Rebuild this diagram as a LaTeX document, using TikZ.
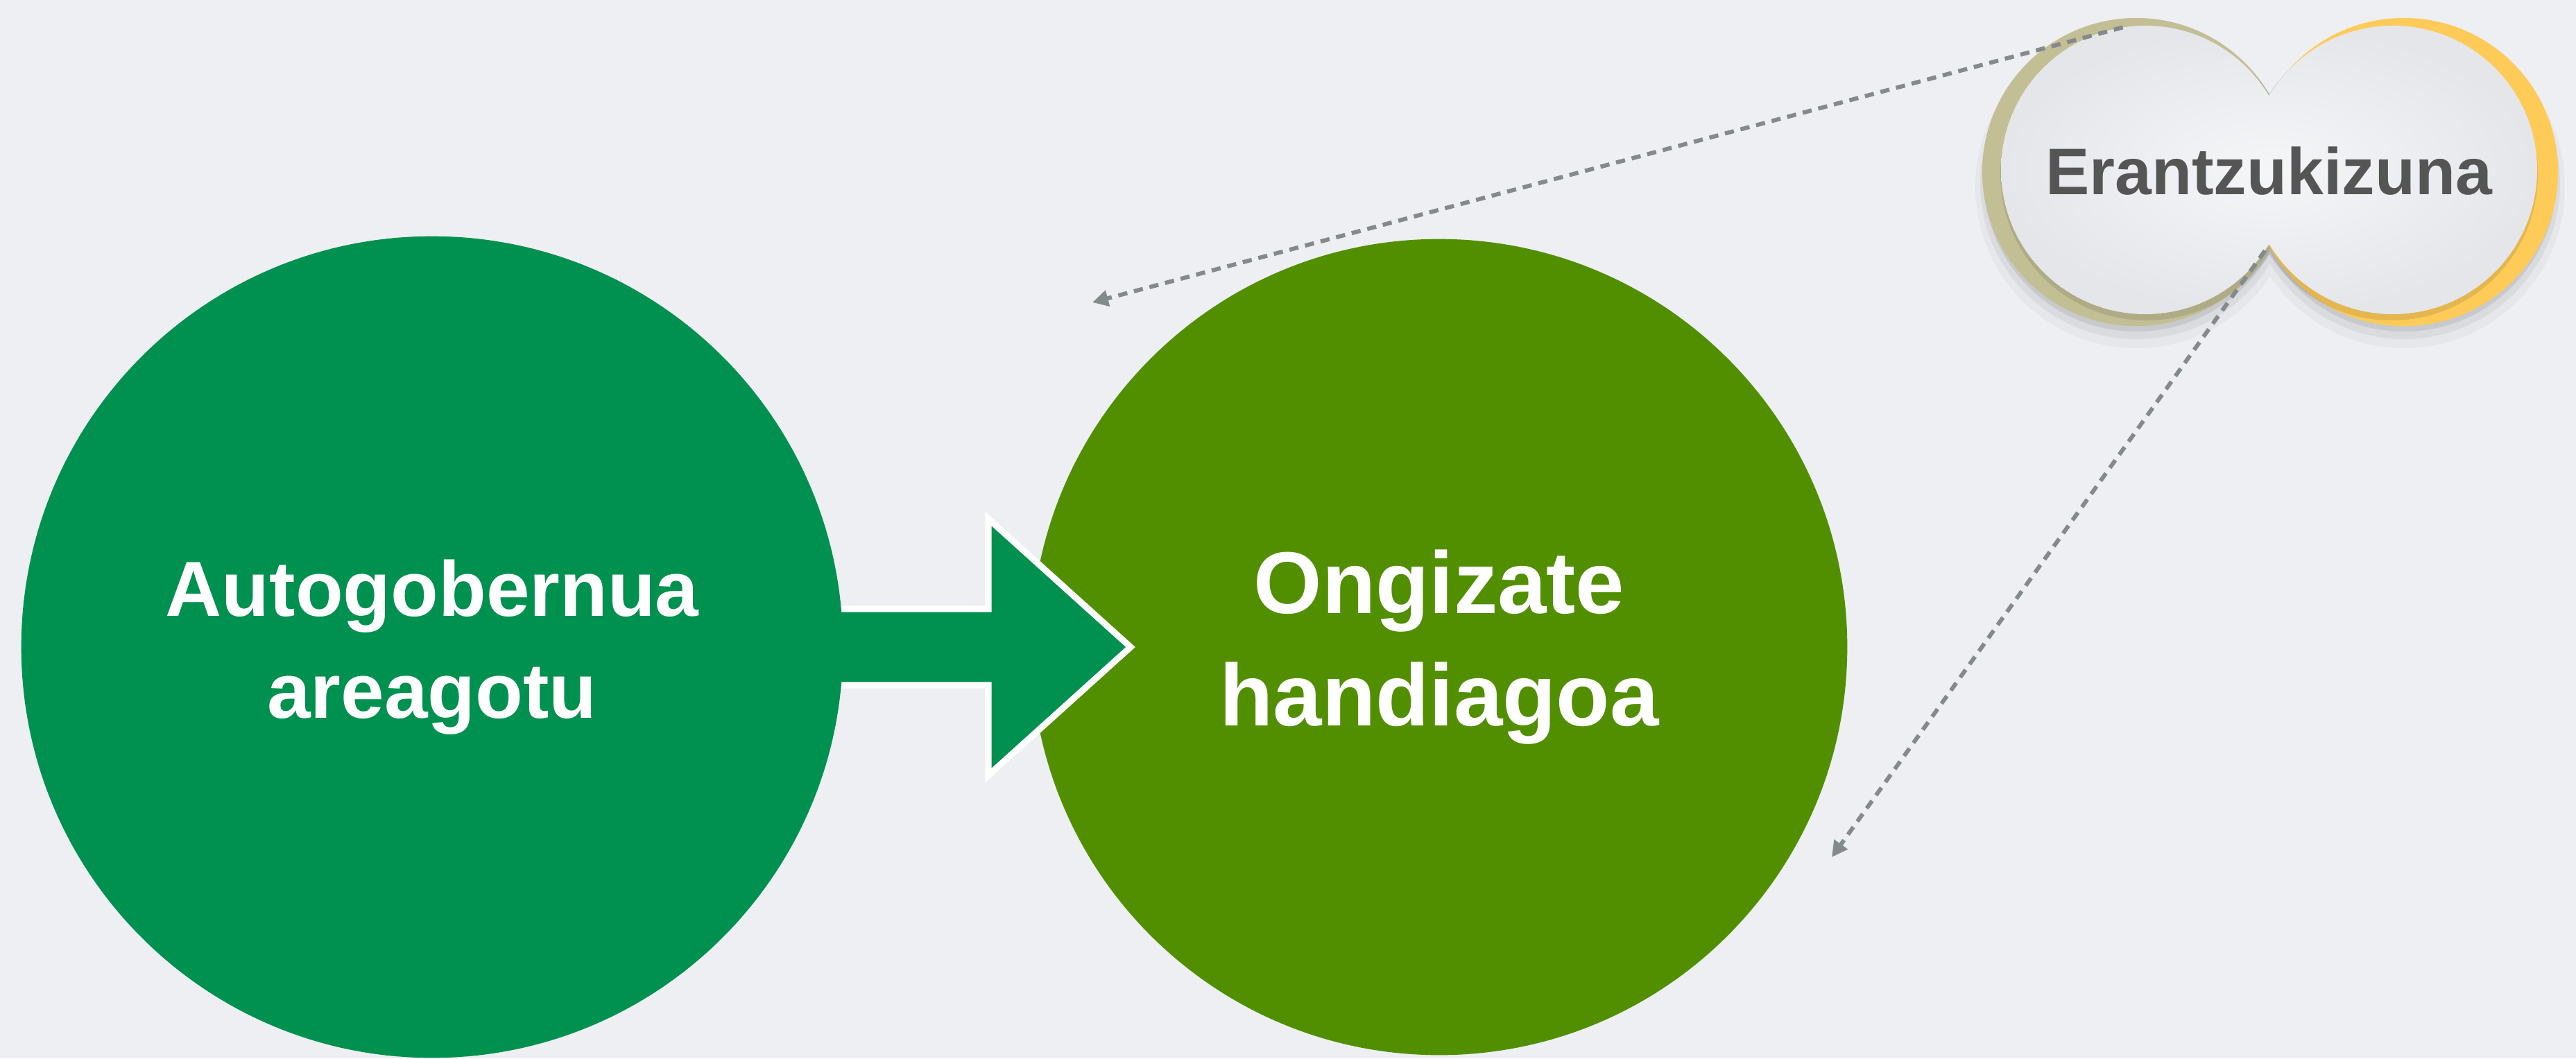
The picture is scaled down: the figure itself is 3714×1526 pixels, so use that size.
\documentclass[tikz,border=0pt]{standalone}
\usepackage{fontspec}
\setmainfont{Liberation Sans}
\usetikzlibrary{arrows.meta}
\definecolor{bg}{HTML}{EEEFF2}
\definecolor{greenA}{HTML}{00904F}
\definecolor{greenB}{HTML}{518F00}
\definecolor{rimolive}{HTML}{C3BF95}
\definecolor{rimgold}{HTML}{FECB58}
\definecolor{txtgray}{HTML}{555555}
\definecolor{dashgray}{HTML}{848A8A}
\definecolor{lobein}{HTML}{F5F6F8}
\definecolor{lobeout}{HTML}{E4E6EA}
\begin{document}
\begin{tikzpicture}[x=0.01cm,y=-0.01cm,
  bigcircle/.style={circle, inner sep=0pt, outer sep=0pt, text=white, align=center},
  rim/.style={circle, inner sep=0pt, outer sep=0pt, minimum size=4.44cm},
  lobe/.style={circle, inner sep=0pt, outer sep=0pt, minimum size=4.16cm},
  dashconn/.style={draw=dashgray, line width=1.7pt, dash pattern=on 3.8pt off 2.8pt,
                   -{Triangle[length=6.5pt,width=6.5pt]}},
  blockarrow/.style={fill=greenA, draw=white, line width=2.6pt, line join=miter}
]
\fill[bg] (0,0) rectangle (3714,1526);
\useasboundingbox (0,0) rectangle (3714,1526);

% right circle
\node[bigcircle, fill=greenB, minimum size=11.76cm,
      font=\bfseries\fontsize{36}{46}\selectfont] (rc) at (2075,933) {Ongizate\\handiagoa};
% block arrow
\draw[blockarrow] (1150,878) -- (1425,878) -- (1425,748) -- (1630,933)
   -- (1425,1118) -- (1425,988) -- (1150,988) -- cycle;
% left circle
\node[bigcircle, fill=greenA, minimum size=11.84cm,
      font=\bfseries\fontsize{32}{42}\selectfont] (lc) at (623,933) {Autogobernua\\areagotu};

% Erantzukizuna shape: soft shadow
\fill[black, opacity=0.03] (3080,270) circle (232) (3466,270) circle (232);
\fill[black, opacity=0.05] (3080,264) circle (225) (3466,264) circle (225);
\fill[black, opacity=0.08] (3080,258) circle (220) (3466,258) circle (220);
% rims
\node[rim, fill=rimolive] (rimL) at (3080,248) {};
\node[rim, fill=rimgold] (rimR) at (3466,248) {};
% thin inner shadow on the rims
\fill[black, opacity=0.10] (3095,251) circle (211) (3448,251) circle (211);
% white lobes
\shade[inner color=lobein, outer color=lobeout]
   (3093,245) circle (208) (3450,245) circle (208);
\node[lobe] (lobeL) at (3093,245) {};
\node[lobe] (lobeR) at (3450,245) {};
\node[text=txtgray, font=\bfseries\fontsize{27}{32}\selectfont, inner sep=0pt] (resp) at (3271,247) {Erantzukizuna};

% dashed connectors
\coordinate (t1) at (1575,436);
\coordinate (t2) at (2641,1236);
\draw[dashconn] (lobeL.99) -- (t1);
\draw[dashconn] (lobeL.-34) -- (t2);
\end{tikzpicture}
\end{document}
